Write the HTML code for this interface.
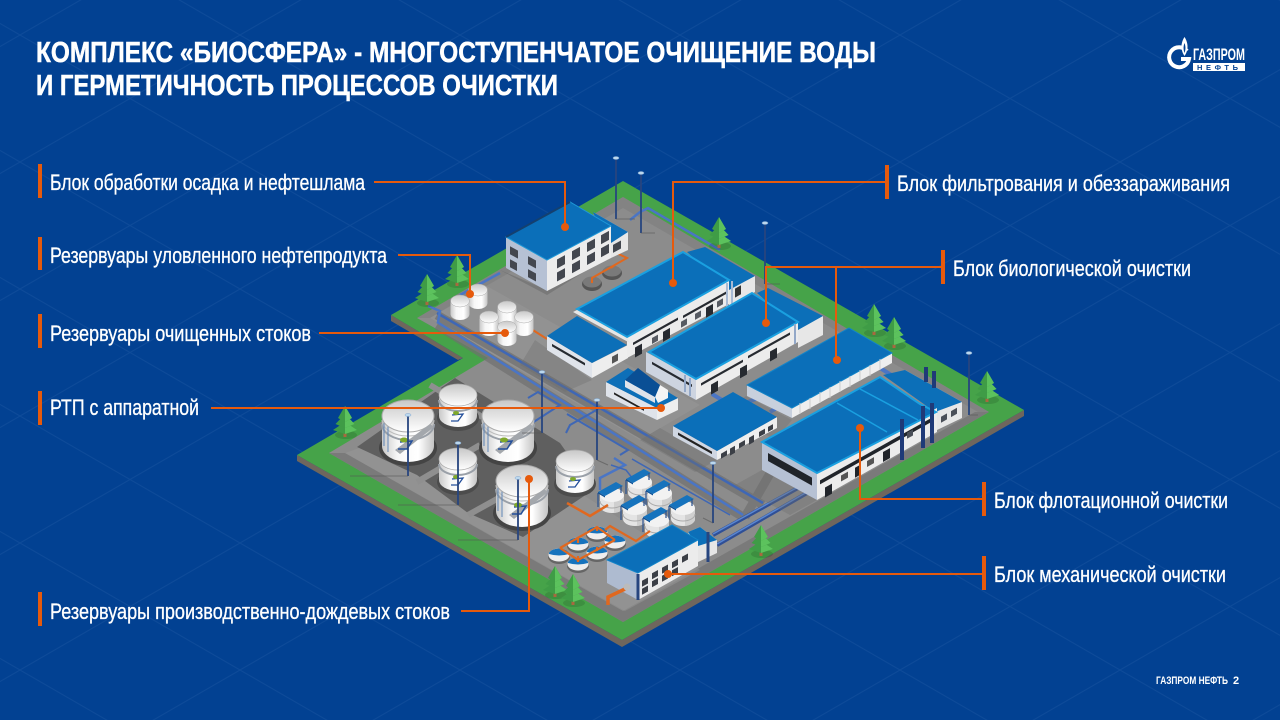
<!DOCTYPE html>
<html lang="ru"><head><meta charset="utf-8"><title>Комплекс Биосфера</title>
<style>html,body{margin:0;padding:0;background:#024192}svg{display:block}
text{font-family:"Liberation Sans Narrow","Liberation Sans",sans-serif;fill:#fff}
.l{font-size:22px;stroke:#fff;stroke-width:.3px}.t{font-size:29px;font-weight:bold;stroke:#fff;stroke-width:.5px}</style></head><body>
<svg xmlns="http://www.w3.org/2000/svg" width="1280" height="720" viewBox="0 0 1280 720">
<defs>
<linearGradient id="tb" x1="0" x2="1" y1="0" y2="0"><stop offset="0" stop-color="#c9c9c9"/><stop offset=".3" stop-color="#f7f7f7"/><stop offset=".7" stop-color="#fff"/><stop offset="1" stop-color="#c4c4c4"/></linearGradient>
<linearGradient id="tt" x1="0" x2="0" y1="0" y2="1"><stop offset="0" stop-color="#c8c8c8"/><stop offset="1" stop-color="#ffffff"/></linearGradient>
<pattern id="g" width="220" height="127" patternUnits="userSpaceOnUse" patternTransform="translate(20 35)"><path d="M0 0L220 127M220 0L0 127" stroke="#6f9bd0" stroke-opacity=".11" stroke-width="1" fill="none"/></pattern>
<g id="tree"><ellipse cx="1" cy="-2" rx="11" ry="4" fill="#000" opacity=".12"/><rect x="-1.500" y="-6" width="3" height="6" fill="#a8683f"/><path d="M0 -15L-12 -7L0 -3L12 -7Z" fill="#3f9c46"/><path d="M0 -15L0 -3L12 -7Z" fill="#5cc25d"/><path d="M0 -23L-9.500 -13L0 -9L9.500 -13Z" fill="#3f9c46"/><path d="M0 -23L0 -9L9.500 -13Z" fill="#5cc25d"/><path d="M0 -31L-7 -19L0 -15L7 -19Z" fill="#3f9c46"/><path d="M0 -31L0 -15L7 -19Z" fill="#5cc25d"/></g>
<g id="big"><ellipse cy="32" rx="29" ry="18" fill="#444"/><path d="M-26 0V30A26 16 0 0 0 26 30V0Z" fill="url(#tb)"/><path d="M-26 8A26 16 0 0 0 26 8" stroke="#9aa0a8" stroke-width="2" fill="none"/><path d="M-26 4A26 16 0 0 0 26 4" stroke="#bbb" fill="none"/><path d="M-24 4V30M-20 8V36" stroke="#5f86b8" fill="none"/><ellipse rx="26" ry="16" fill="url(#tt)" stroke="#aaa"/><path d="M-13 34L22 8L26 11L-8 38Z" fill="#a3a7ac"/><path d="M-8 26l12 -1l-5 8h-9" fill="none" stroke="#234f9b" stroke-width="1.500"/><ellipse cx="-4" cy="24" rx="4" ry="2.500" fill="#7fa82b"/></g>
<g id="sm"><ellipse cy="23" rx="21" ry="13" fill="#4c4c4c"/><path d="M-19 0V21A19 11 0 0 0 19 21V0Z" fill="url(#tb)"/><path d="M-19 5A19 11 0 0 0 19 5" stroke="#9aa0a8" stroke-width="2" fill="none"/><ellipse rx="19" ry="11" fill="url(#tt)" stroke="#aaa" stroke-width=".7"/><path d="M-6 20l11 -1l-5 7h-7" fill="none" stroke="#234f9b" stroke-width="1.300"/><ellipse cx="-2" cy="18" rx="3" ry="2" fill="#7fa82b"/></g>
<g id="mini"><path d="M-9.500 0V13A9.500 6 0 0 0 9.500 13V0Z" fill="url(#tb)"/><ellipse rx="9.500" ry="6" fill="url(#tt)" stroke="#aaa" stroke-width=".5"/></g>
<g id="rt"><path d="M-12 0V11A12 7 0 0 0 12 11V0Z" fill="#e4e4e4"/><path d="M12 0V11A12 7 0 0 1 2 18V6Z" fill="#cfcfcf"/><path d="M-12 6A12 7 0 0 0 12 6" stroke="#aaa" fill="none"/><ellipse rx="12" ry="7" fill="#f2f2f2"/><path d="M-14 -3L4 -13L11 -9L-7 1Z" fill="#1673bd"/><path d="M-14 -3L-7 1V2.500L-14 -1.500Z" fill="#0b4f93"/><path d="M-14 -2V12M9 -9V-2" stroke="#27508f" stroke-width="1.200"/></g>
<g id="disc"><ellipse cy="2" rx="11" ry="7" fill="#666"/><ellipse rx="10.500" ry="6.500" fill="#eee"/><path d="M-10 -2A10.500 6.500 0 0 1 10 -2L10 -1Q0 2 -10 -1Z" fill="#1673bd"/></g>
<g id="lamp"><ellipse rx="3" ry="1.500" fill="#bcd8ee" stroke="#7fa5cf" stroke-width=".5"/></g>
</defs>
<rect width="1280" height="720" fill="#024192"/>
<rect width="1280" height="720" fill="url(#g)"/>

<!-- base -->
<path d="M297 455L297 461L622 647L1024 416L1024 410L622 640Z M391 315L391 321L458 360L463 358Z" fill="#6f665d"/>
<path d="M623 181L1024 410L622 640L297 455L463 358L391 315Z" fill="#46a349"/>
<path d="M623 197L989 412L623 622L329 453L488 358L417 318Z" fill="#8c8c8c"/>
<path d="M623 197L989 412L978 412L623 208L430 318L417 318Z" fill="#7d7d7d" opacity=".6"/>
<path d="M329 453L623 622L989 412L975 412L623 611L345 453Z" fill="#7a7a7a"/>
<path d="M345 453L625 611L700 570L560 480L440 420Z" fill="#979797" opacity=".5"/>
<path d="M430 318L485 285L700 405L640 440Z" fill="#9a9a9a" opacity=".45"/>

<!-- tank yard pads -->
<path d="M357 447L455 378L560 443L593 490L523 537L468 513L417 475Z" fill="#5f5f5f"/>
<path d="M417 482L480 445M468 515L535 478M430 385L520 440" stroke="#8f8f8f" stroke-width="6" fill="none"/>
<!-- trenches and pipes -->
<path d="M437 315L763 505M437 325L743 517M795 430L745 517" stroke="#6f6f6f" stroke-width="9" fill="none" opacity=".7"/>
<path d="M437 313L763 503" stroke="#3f67b5" stroke-width="2.500" fill="none"/>
<path d="M437 322L743 515" stroke="#4a75c5" stroke-width="2.500" fill="none"/>
<path d="M475 335L600 408L570 425L566 433M528 398L538 392L560 405L515 434M567 414L628 450L620 455" stroke="#3f67b5" stroke-width="2" fill="none"/>
<path d="M630 220L640 212L648 208L720 250M428 306L440 311L438 322M460 295L500 273M614 458L625 465L600 478L600 490" stroke="#4a75c5" stroke-width="2.500" fill="none"/>
<path d="M611 465L626 470L640 488M632 459L730 515" stroke="#3f67b5" stroke-width="1.500" fill="none"/>
<path d="M713 535L798 488" stroke="#2f4f96" stroke-width="4" fill="none"/><path d="M713 534L798 487" stroke="#5a86d0" stroke-width="1.500" fill="none"/>
<path d="M717 545L807 493" stroke="#2f4f96" stroke-width="4" fill="none"/><path d="M717 544L807 492" stroke="#5a86d0" stroke-width="1.500" fill="none"/>
<path d="M712 394L722 400M748 402L758 398M770 412L780 406M880 368L893 376" stroke="#4a75c5" stroke-width="4" fill="none"/>

<!-- shadows -->
<path d="M500 270L547 295L600 262L590 255L547 290Z" fill="#666" opacity=".5"/>
<path d="M535 340L592 380L565 392L520 365Z" fill="#6d6d6d" opacity=".35"/>
<path d="M746 396L792 420L775 440L725 410Z" fill="#6d6d6d" opacity=".3"/>
<path d="M660 428L717 460L695 472L640 440Z" fill="#6d6d6d" opacity=".4"/>
<path d="M762 470L817 500L790 515L735 485Z" fill="#6d6d6d" opacity=".35"/>

<!-- tanks -->
<use href="#big" x="408" y="416"/><use href="#sm" x="458" y="395"/><use href="#big" x="508" y="416"/>
<use href="#sm" x="458" y="459"/><use href="#big" x="522" y="481"/><use href="#sm" x="575" y="461"/>
<!-- tall lights -->
<path d="M408 415V476M458 443V505M518 478V540M542 372V433M597 400V460M713 463V523M616 158V219M641 173V233M765 223V284M969 353V415" stroke="#27457f" stroke-width="1.800" fill="none"/>
<path d="M408 476H350M458 505H398M518 540H458M542 433H522M597 460L608 465M713 523L703 518M616 219L635 219M641 233L655 233M765 284L780 284M969 415H978" stroke="#555" stroke-width="1" opacity=".6" fill="none"/>
<use href="#lamp" x="408" y="415"/><use href="#lamp" x="458" y="443"/><use href="#lamp" x="518" y="478"/><use href="#lamp" x="542" y="372"/><use href="#lamp" x="597" y="400"/><use href="#lamp" x="713" y="463"/><use href="#lamp" x="616" y="158"/><use href="#lamp" x="641" y="173"/><use href="#lamp" x="765" y="223"/><use href="#lamp" x="969" y="353"/>

<!-- mini tanks -->
<path d="M517 320L547 339M512 313l4 3M498 314l3 -1" stroke="#e0681f" stroke-width="2" fill="none"/>
<use href="#mini" x="478" y="290"/><use href="#mini" x="460" y="301"/><use href="#mini" x="507" y="307"/><use href="#mini" x="489" y="317"/><use href="#mini" x="524" y="317"/><use href="#mini" x="507" y="327"/>
<ellipse cx="592" cy="284" rx="10" ry="7" fill="#555"/><ellipse cx="612" cy="273" rx="10" ry="7" fill="#555"/><ellipse cx="592" cy="282" rx="9" ry="5.500" fill="#7a7a7a"/><ellipse cx="612" cy="271" rx="9" ry="5.500" fill="#7a7a7a"/>
<path d="M592 283V278L627 258L610 250M611 268L615 265" stroke="#e0681f" stroke-width="2" fill="none"/>

<!-- admin building -->
<path d="M593 212L628 232V250L611 258V226Z" fill="#e7e7e7"/><path d="M593 212L628 232L611 243L600 228Z" fill="#0d6fb8"/>
<path d="M506 237L547 260V291L506 268Z" fill="#b6c1d4"/><path d="M547 260L611 225V258L547 291Z" fill="#ececec"/>
<path d="M506 237L570 202L611 226L547 260Z" fill="#0b6fb9" stroke="#1e97d6" stroke-width="1"/><path d="M506 237L570 202" stroke="#14406f" stroke-width="2"/>
<g transform="matrix(1,-.55,0,1,547,260)" fill="#43474f"><rect x="10" y="5" width="8" height="9"/><rect x="25" y="5" width="8" height="9"/><rect x="40" y="5" width="8" height="9"/><rect x="54" y="5" width="8" height="9"/><rect x="10" y="18" width="8" height="9"/><rect x="25" y="18" width="8" height="9"/><rect x="40" y="18" width="8" height="9"/><rect x="54" y="18" width="8" height="9"/></g>
<g transform="matrix(1,.55,0,1,506,237)" fill="#43474f"><rect x="4" y="7" width="8" height="8"/><rect x="22" y="7" width="8" height="8"/><rect x="4" y="20" width="7" height="8"/><rect x="22" y="20" width="8" height="8"/></g>
<g transform="matrix(1,-.55,0,1,611,244)" fill="#43474f"><rect x="2" y="2" width="8" height="8"/></g>

<!-- filter building -->
<path d="M729 282L755 276V292L729 306Z" fill="#e7e7e7"/><path d="M687 252L705 247L755 276L729 290Z" fill="#0c6fb8"/>
<path d="M547 336L592 363V378L547 350Z" fill="#dfe3ea"/><path d="M592 363L628 345V358L592 378Z" fill="#eee"/>
<path d="M547 336L577 316L627 345L592 363Z" fill="#0c6fb8"/>
<path d="M627 337L729 280V304L627 358Z" fill="#ececec"/>
<path d="M577 309L683 252L729 280L627 337Z" fill="#0b6fb9" stroke="#1aa0e0" stroke-width="2"/><path d="M577 310L627 338L630 343L573 312Z" fill="#e6e6e6"/>
<g transform="matrix(1,-.56,0,1,627,340)" fill="#262a30"><rect x="6" y="6" width="45" height="2.500"/><rect x="56" y="7" width="44" height="2.500"/><rect x="8" y="12" width="7" height="10"/><rect x="25" y="12" width="6" height="6" fill="#565a62"/><rect x="36" y="12" width="7" height="10"/><rect x="54" y="12" width="6" height="6" fill="#565a62"/><rect x="68" y="12" width="6" height="6" fill="#565a62"/><rect x="79" y="12" width="7" height="10"/><rect x="90" y="12" width="6" height="6" fill="#565a62"/></g>
<path d="M727 283V308M732 281V304" stroke="#a8bad4" stroke-width="2"/>
<g transform="matrix(1,.58,0,1,547,336)"><rect x="5" y="5" width="33" height="2.500" fill="#262a30"/></g>
<g transform="matrix(1,-.56,0,1,592,365)"><rect x="20" y="3" width="6" height="7" fill="#555"/></g>
<g transform="matrix(1,-.56,0,1,729,288)"><rect x="6" y="4" width="6" height="9" fill="#333"/></g>

<!-- bio building -->
<path d="M798 322L823 316V335L798 348Z" fill="#e7e7e7"/><path d="M757 293L768 288L823 316L798 330Z" fill="#0c6fb8"/>
<path d="M646 352L696 379V400L646 372Z" fill="#cdd4e0"/><path d="M696 379L798 322V342L696 400Z" fill="#ececec"/>
<path d="M649 352L752 293L798 322L696 379Z" fill="#0b6fb9" stroke="#1aa0e0" stroke-width="2"/>
<g transform="matrix(1,-.56,0,1,696,385)" fill="#262a30"><rect x="5" y="1" width="42" height="2.500"/><rect x="52" y="0" width="42" height="2.500"/><rect x="15" y="8" width="7" height="10"/><rect x="44" y="8" width="7" height="10"/><rect x="74" y="8" width="7" height="10"/></g>
<g transform="matrix(1,.57,0,1,649,358)"><rect x="3" y="2" width="40" height="2.500" fill="#262a30"/></g>
<path d="M685 375V392M690 378V396M795 324V344" stroke="#93a8c8" stroke-width="2"/>

<!-- rtp -->
<path d="M606 382L657 408V420L606 396Z" fill="#dfe3ea"/><path d="M657 408L678 398V410L657 420Z" fill="#eee"/>
<path d="M606 382L628 368L678 398L657 408Z" fill="#0d6fb8"/>
<path d="M625 380L655 397V403L625 387Z" fill="#dfe3ea"/><path d="M655 397L660 385L668 390V398L658 403Z" fill="#f4f4f4"/><path d="M625 380L638 368L660 385L655 397Z" fill="#0a4f95"/>
<g transform="matrix(1,.55,0,1,606,385)"><rect x="8" y="3" width="30" height="2" fill="#222"/></g>

<!-- mid right -->
<path d="M747 385L792 408V418L747 396Z" fill="#c8d0dd"/><path d="M792 408L892 353V363L792 418Z" fill="#eee"/>
<path d="M747 385L849 328L892 353L792 408Z" fill="#0b6fb9" stroke="#1284c8"/>
<path d="M800 403V414M810 398V409M820 392V403M830 387V398M840 381V392M850 376V387M860 370V381M870 365V376M880 359V370" stroke="#ccc" stroke-width="1"/>

<!-- small centre -->
<path d="M673 426L717 451V460L673 436Z" fill="#cfd6e2"/><path d="M717 451L777 417V428L717 460Z" fill="#eee"/>
<path d="M673 426L733 392L777 417L717 451Z" fill="#0b6fb9"/>
<g transform="matrix(1,-.57,0,1,717,454)" fill="#3b3f46"><rect x="4" y="2" width="6" height="5"/><rect x="13" y="2" width="5" height="7"/><rect x="22" y="2" width="6" height="5"/><rect x="32" y="2" width="5" height="7"/><rect x="42" y="2" width="6" height="5"/><rect x="51" y="2" width="5" height="5"/></g>
<g transform="matrix(1,.56,0,1,677,431)"><rect x="1" y="1" width="34" height="2.500" fill="#222"/></g>

<!-- flotation -->
<path d="M905 370L962 402V418L937 430V408Z" fill="#e7e7e7"/><path d="M883 375L905 370L962 402L935 412Z" fill="#0c6fb8"/>
<path d="M762 442L817 473V500L762 470Z" fill="#b6c1d4"/><path d="M817 473L937 408V432L817 500Z" fill="#ececec"/>
<path d="M762 442L880 377L920 404L936 412L817 473Z" fill="#0b6fb9" stroke="#1aa0e0" stroke-width="2"/>
<path d="M837 403L887 432M860 389L918 420" stroke="#1aa0e0" stroke-width="1.500" fill="none"/>
<g transform="matrix(1,-.56,0,1,817,482)" fill="#20242a"><rect x="3" y="0" width="110" height="4"/><rect x="8" y="10" width="7" height="10"/><rect x="24" y="7" width="7" height="6" fill="#555"/><rect x="38" y="7" width="6" height="10"/><rect x="50" y="7" width="7" height="6" fill="#555"/><rect x="66" y="7" width="7" height="10"/></g>
<g transform="matrix(1,.56,0,1,768,450)"><rect x="0" y="3" width="44" height="8" fill="#20242a"/></g>
<g transform="matrix(1,-.56,0,1,937,420)" fill="#4a4f58"><rect x="-30" y="-4" width="6" height="6"/><rect x="4" y="-1" width="6" height="6"/><rect x="14" y="-1" width="6" height="6"/></g>
<path d="M902 419V460M923 406V448M932 403V443M926 367V382M934 371V388" stroke="#1f3a78" stroke-width="4" fill="none"/>

<!-- canopied tanks -->
<use href="#rt" x="640" y="482"/><use href="#rt" x="612" y="495"/><use href="#rt" x="660" y="493"/><use href="#rt" x="683" y="508"/><use href="#rt" x="635" y="508"/><use href="#rt" x="657" y="520"/>
<path d="M567 503L590 516L608 505" stroke="#e0681f" stroke-width="2.500" fill="none"/>
<!-- clarifiers -->
<use href="#disc" x="559" y="555"/><use href="#disc" x="578" y="544"/><use href="#disc" x="597" y="533"/><use href="#disc" x="615" y="542"/><use href="#disc" x="597" y="553"/><use href="#disc" x="578" y="564"/>
<path d="M560 548L597 527L615 540M560 548L578 560L615 540M605 530L610 526L636 541L650 531M597 527V531M578 538V543M597 547V551M578 556V562" stroke="#e0681f" stroke-width="2.200" fill="none"/>

<!-- mech -->
<path d="M688 532L700 527L717 540V553L698 562Z" fill="#e6e6e6"/><path d="M688 532L700 527L717 540L698 546Z" fill="#0c6fb8"/>
<path d="M607 560L638 573V600L607 583Z" fill="#aebbd0"/><path d="M638 573L698 540V566L638 600Z" fill="#ececec"/>
<path d="M607 560L672 525L698 540L638 573Z" fill="#0b6fb9" stroke="#1284c8"/>
<g transform="matrix(1,-.55,0,1,638,580)" fill="#3b3f46"><rect x="4" y="3" width="6" height="6"/><rect x="14" y="1" width="6" height="6"/><rect x="24" y="1" width="6" height="6"/><rect x="34" y="1" width="6" height="6"/><rect x="44" y="1" width="6" height="6"/><rect x="4" y="11" width="6" height="6"/><rect x="14" y="9" width="6" height="6"/><rect x="24" y="9" width="6" height="6"/><rect x="34" y="9" width="6" height="6"/></g>
<path d="M638 574V600M708 532V562" stroke="#27457f" stroke-width="3"/>
<path d="M608 605V597L625 589" stroke="#e0681f" stroke-width="3.500" fill="none"/><circle cx="627" cy="587" r="3.500" fill="#bbb"/>

<!-- trees -->
<use href="#tree" x="427" y="305"/><use href="#tree" x="457" y="286"/><use href="#tree" x="345" y="437"/><use href="#tree" x="719" y="248"/><use href="#tree" x="874" y="335"/><use href="#tree" x="894" y="348"/><use href="#tree" x="987" y="402"/><use href="#tree" x="761" y="556"/><use href="#tree" x="555" y="597"/><use href="#tree" x="573" y="605"/>

<!-- leaders -->
<g fill="none" stroke="#e65a0c" stroke-width="2">
<path d="M374 182H565V227M398 255H470V294M319 333H505M211 408H661M461 611H529V479M885 182H673V283M941 267H766V323M836 267V360M982 499H860V428M982 574H668"/>
</g>
<g fill="#e65a0c">
<circle cx="565" cy="227" r="4"/><circle cx="470" cy="294" r="4"/><circle cx="505" cy="333" r="4"/><circle cx="661" cy="408" r="4"/><circle cx="529" cy="479" r="4"/><circle cx="673" cy="283" r="4"/><circle cx="766" cy="323" r="4"/><circle cx="837" cy="360" r="4"/><circle cx="860" cy="428" r="4"/><circle cx="668" cy="574" r="4"/>
<rect x="38" y="164" width="4" height="34"/><rect x="38" y="237" width="4" height="33"/><rect x="38" y="314" width="4" height="34"/><rect x="38" y="391" width="4" height="34"/><rect x="38" y="592" width="4" height="34"/>
<rect x="885" y="165" width="4" height="34"/><rect x="941" y="250" width="4" height="34"/><rect x="982" y="482" width="4" height="34"/><rect x="982" y="556" width="4" height="34"/>
</g>

<!-- text -->
<text class="t" x="36" y="62" textLength="840" lengthAdjust="spacingAndGlyphs">КОМПЛЕКС «БИОСФЕРА» - МНОГОСТУПЕНЧАТОЕ ОЧИЩЕНИЕ ВОДЫ</text>
<text class="t" x="36" y="95" textLength="522" lengthAdjust="spacingAndGlyphs">И ГЕРМЕТИЧНОСТЬ ПРОЦЕССОВ ОЧИСТКИ</text>
<text class="l" x="50" y="190" textLength="315" lengthAdjust="spacingAndGlyphs">Блок обработки осадка и нефтешлама</text>
<text class="l" x="50" y="263" textLength="337" lengthAdjust="spacingAndGlyphs">Резервуары уловленного нефтепродукта</text>
<text class="l" x="50" y="341" textLength="261" lengthAdjust="spacingAndGlyphs">Резервуары очищенных стоков</text>
<text class="l" x="50" y="415" textLength="149" lengthAdjust="spacingAndGlyphs">РТП с аппаратной</text>
<text class="l" x="50" y="619" textLength="400" lengthAdjust="spacingAndGlyphs">Резервуары производственно-дождевых стоков</text>
<text class="l" x="897" y="191" textLength="333" lengthAdjust="spacingAndGlyphs">Блок фильтрования и обеззараживания</text>
<text class="l" x="953" y="276" textLength="238" lengthAdjust="spacingAndGlyphs">Блок биологической очистки</text>
<text class="l" x="994" y="508" textLength="234" lengthAdjust="spacingAndGlyphs">Блок флотационной очистки</text>
<text class="l" x="994" y="582" textLength="232" lengthAdjust="spacingAndGlyphs">Блок механической очистки</text>

<!-- logo -->
<path d="M1187 51A10 10 0 1 0 1189 59H1181" fill="none" stroke="#fff" stroke-width="4"/>
<path d="M1184.500 37C1180 44 1181 51 1184.500 56C1188 51 1189 44 1184.500 37Z" fill="#fff"/><path d="M1184.500 43C1183 47 1183.500 50 1184.500 53C1185.500 50 1186 47 1184.500 43Z" fill="#024192"/>
<text x="1193" y="60" font-size="17" font-weight="bold" textLength="52" lengthAdjust="spacingAndGlyphs">ГАЗПРОМ</text>
<rect x="1193" y="63" width="52" height="8" fill="#fff"/>
<text x="1197" y="70" font-size="7.500" font-weight="bold" textLength="44" style="fill:#024192;letter-spacing:3px">НЕФТЬ</text>
<text x="1156" y="684" font-size="11" font-weight="bold" textLength="72" lengthAdjust="spacingAndGlyphs">ГАЗПРОМ НЕФТЬ</text>
<text x="1233" y="684" font-size="11" font-weight="bold">2</text>
</svg>
</body></html>
